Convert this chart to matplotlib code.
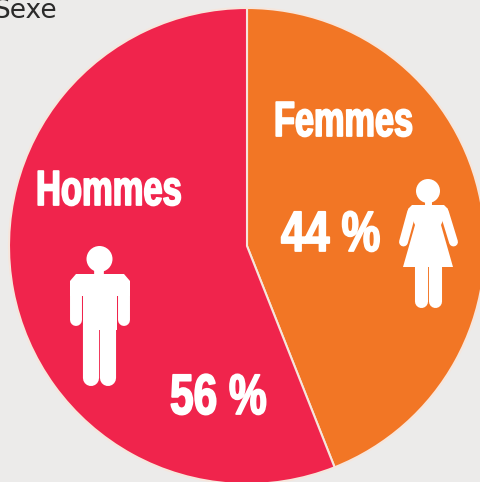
import matplotlib
matplotlib.use("Agg")
import matplotlib.pyplot as plt
import matplotlib.patheffects as pe
from matplotlib.patches import Circle, Polygon
from matplotlib.transforms import Affine2D

W, H = 481, 482
BG = "#ECEBEA"
RED = "#F0244C"
ORANGE = "#F27625"

groups = ["Femmes", "Hommes"]
shares = [44, 56]
share_labels = ["44 %", "56 %"]
slice_colors = [ORANGE, RED]


class Squeeze(pe.AbstractPathEffect):
    "draw the glyphs narrower and a bit fatter, no condensed font is installed"

    def __init__(self, sx, stroke):
        super().__init__()
        self.sx = sx
        self.stroke = stroke

    def draw_path(self, renderer, gc, tpath, affine, rgbFace=None):
        gc0 = renderer.new_gc()
        gc0.copy_properties(gc)
        gc0.set_foreground("white")
        gc0.set_linewidth(self.stroke)
        renderer.draw_path(gc0, tpath, Affine2D().scale(self.sx, 1) + affine, rgbFace)
        gc0.restore()


def py(y):
    "image y (from the top) to axes y"
    return H - y


def flip(points):
    return [(x, py(y)) for x, y in points]


def man(ax, color="white"):
    ax.add_patch(Circle((99.5, py(259)), 13, fc=color, ec="none", zorder=3))
    ax.plot([99.5, 99.5], [py(270), py(276)], color=color, lw=7, solid_capstyle="butt", zorder=3)
    # shoulders and trunk
    ax.add_patch(Polygon(flip([(76, 274), (124, 274), (130, 281), (130, 296), (70, 296), (70, 281)]),
                         fc=color, ec="none", zorder=3))
    ax.add_patch(Polygon(flip([(83, 290), (117, 290), (117, 330), (83, 330)]), fc=color, ec="none", zorder=3))
    # arms and legs, round ends
    for x in (76, 124):
        ax.plot([x, x], [py(285), py(320)], color=color, lw=8.6, solid_capstyle="round", zorder=3)
    for x in (91, 108.5):
        ax.plot([x, x], [py(325), py(378)], color=color, lw=11.6, solid_capstyle="round", zorder=3)


def woman(ax, color="white"):
    ax.add_patch(Circle((428, py(191)), 12, fc=color, ec="none", zorder=3))
    ax.plot([428, 428], [py(200), py(207)], color=color, lw=5, solid_capstyle="butt", zorder=3)
    ax.add_patch(Polygon(flip([(412, 205), (444, 205), (448, 209), (441, 225), (453, 267), (403, 267), (415, 225), (408, 209)]),
                         fc=color, ec="none", zorder=3))
    ax.plot([411.7, 403.5], [py(212), py(242)], color=color, lw=6.4, solid_capstyle="round", zorder=3)
    ax.plot([444.3, 453.5], [py(212), py(242)], color=color, lw=6.4, solid_capstyle="round", zorder=3)
    for x in (421.5, 435.5):
        ax.plot([x, x], [py(262), py(301)], color=color, lw=9.4, solid_capstyle="round", zorder=3)


def big_text(ax, x, y, s, size, sx, stroke):
    t = ax.text(x, py(y), s, color="white", fontsize=size, fontweight="bold",
                family="Liberation Sans", ha="left", va="baseline", zorder=4)
    t.set_path_effects([Squeeze(sx, stroke)])
    return t


fig = plt.figure(figsize=(W / 100, H / 100), dpi=100, facecolor=BG)
ax = fig.add_axes([0, 0, 1, 1])
ax.pie(shares, colors=slice_colors, startangle=90, counterclock=False,
       center=(247, py(246)), radius=238,
       wedgeprops={"edgecolor": "#F6E6DC", "linewidth": 1.5})
ax.set_xlim(0, W)
ax.set_ylim(0, H)
ax.set_aspect("auto")
ax.axis("off")

ax.text(-7, py(18), "Sexe", fontsize=19, color="#2b2b2b", family="DejaVu Sans", ha="left", va="baseline")

big_text(ax, 274, 136, groups[0], 35.5, 0.695, 1.3)
big_text(ax, 36, 205, groups[1], 35.5, 0.70, 1.3)
big_text(ax, 281, 251, share_labels[0], 41, 0.765, 1.3)
big_text(ax, 170, 414, share_labels[1], 41, 0.745, 1.3)

man(ax)
woman(ax)

fig.savefig("out.png", dpi=100, facecolor=BG)
